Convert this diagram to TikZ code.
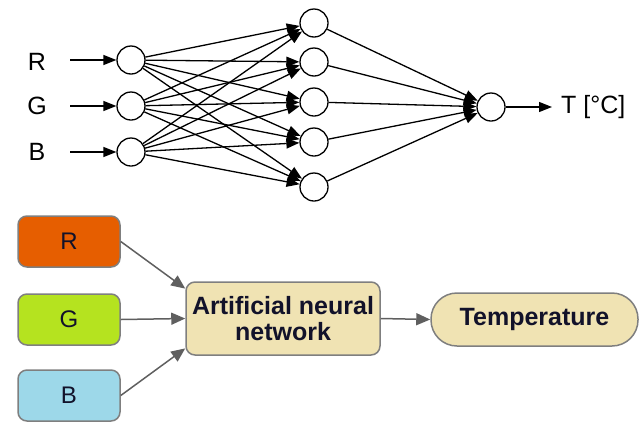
\documentclass[tikz,border=0pt]{standalone}
\usepackage{fontspec}
\setmainfont{Liberation Sans}
\usetikzlibrary{arrows.meta}
\definecolor{rfill}{HTML}{E65E00}
\definecolor{gfill}{HTML}{B5E31F}
\definecolor{bfill}{HTML}{9DD8E9}
\definecolor{annfill}{HTML}{F0E3B3}
\definecolor{boxline}{HTML}{7F7F7F}
\definecolor{flowline}{HTML}{5F5F5F}
\definecolor{txt}{HTML}{12122A}
\begin{document}
\begin{tikzpicture}[x=1pt,y=-1pt,
  neuron/.style={circle,draw,line width=1.3pt,minimum size=28pt,inner sep=0pt},
  conn/.style={line width=1.3pt,-{Triangle[length=13pt,width=10pt]}},
  lbl/.style={font=\fontsize{25}{28}\selectfont,inner sep=0pt},
  cbox/.style={draw=boxline,line width=1.5pt,rounded corners=9pt,minimum width=102pt,minimum height=51pt,inner sep=0pt,font=\fontsize{24}{28}\selectfont,text=txt},
  flow/.style={draw=flowline,line width=1.5pt,-{Triangle[length=14pt,width=12pt]}}
]
\useasboundingbox (0,0) rectangle (639,421);

% input layer
\node[neuron] (i1) at (131,60) {};
\node[neuron] (i2) at (131,106) {};
\node[neuron] (i3) at (131,152) {};
% hidden layer
\node[neuron] (h1) at (314,23) {};
\node[neuron] (h2) at (314,62) {};
\node[neuron] (h3) at (314,102) {};
\node[neuron] (h4) at (314,142) {};
\node[neuron] (h5) at (314,187) {};
% output
\node[neuron] (o) at (491,107) {};

% labels
\node[lbl] (lr) at (37,62) {R};
\node[lbl] (lg) at (37,106) {G};
\node[lbl] (lb) at (37,152) {B};
\coordinate (sr) at (70,60);
\coordinate (sg) at (70,106);
\coordinate (sb) at (70,152);
\draw[conn] (sr) -- (i1);
\draw[conn] (sg) -- (i2);
\draw[conn] (sb) -- (i3);

\foreach \i in {1,2,3}{
  \foreach \h in {1,...,5}{
    \draw[conn] (i\i) -- (h\h);
  }
}
\foreach \h in {1,...,5}{
  \draw[conn] (h\h) -- (o);
}
\coordinate (tend) at (552,107);
\draw[conn] (o) -- (tend);
\node[lbl,anchor=west] (tl) at (561,107) {T [°C]};

% bottom flow
\node[cbox,fill=rfill] (r) at (69,241.5) {R};
\node[cbox,fill=gfill] (g) at (69,319.5) {G};
\node[cbox,fill=bfill] (b) at (69,395.5) {B};
\node[cbox,fill=annfill,minimum width=194pt,minimum height=73pt,font=\bfseries\fontsize{25}{26}\selectfont,align=center] (ann) at (283,318.5) {Artificial neural\\network};
\node[cbox,fill=annfill,minimum width=207pt,minimum height=53pt,rounded corners=26pt,font=\bfseries\fontsize{25}{28}\selectfont] (temp) at (534.5,319.5) {Temperature};

\draw[flow] (r.east) -- (ann.163);
\draw[flow] (g.east) -- (ann.west);
\draw[flow] (b.east) -- (ann.197);
\draw[flow] (ann.east) -- (temp.west);
\end{tikzpicture}
\end{document}
